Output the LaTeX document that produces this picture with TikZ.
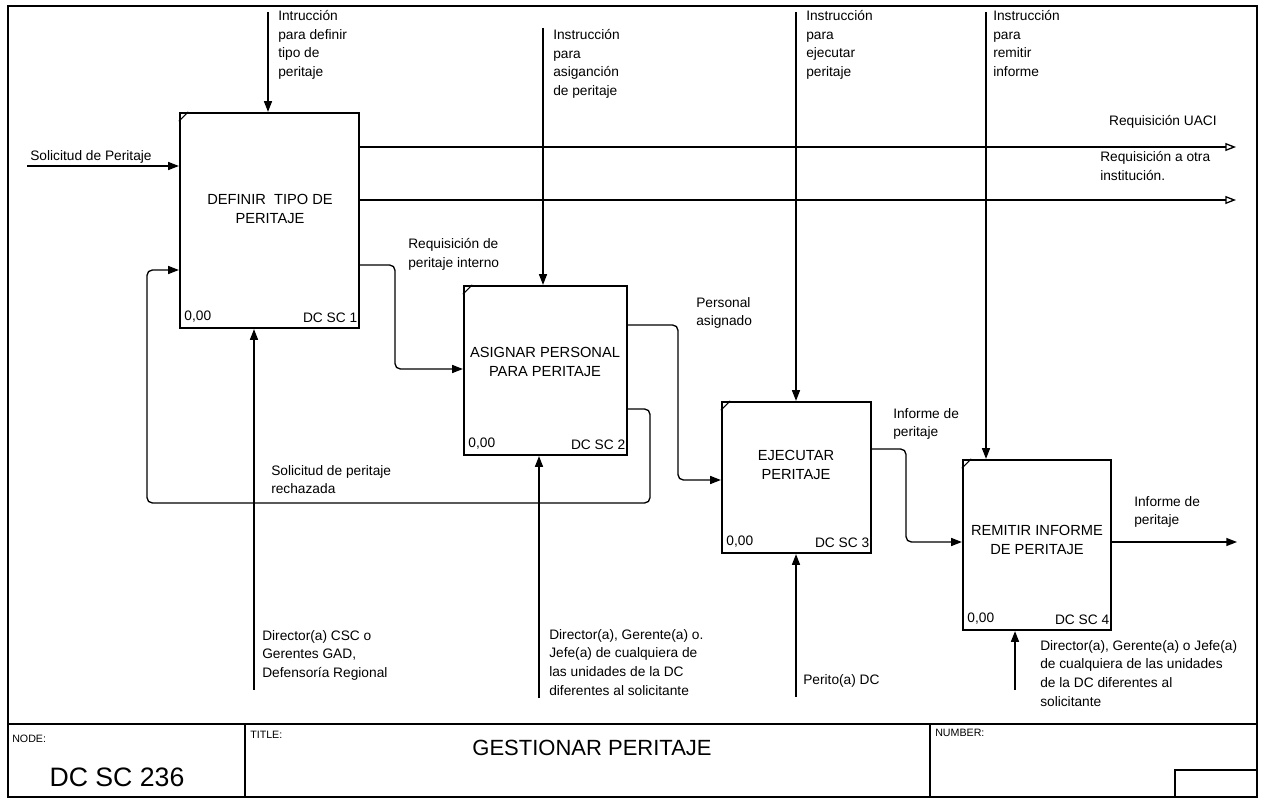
\documentclass[tikz,border=0pt]{standalone}
\usepackage{fontspec}
\setmainfont{Liberation Sans}
\usetikzlibrary{arrows.meta}
\begin{document}
\begin{tikzpicture}[x=0.75pt,y=-0.75pt,
  box/.style={draw, line width=1.7pt, inner sep=0pt},
  boxtext/.style={align=center, font=\fontsize{11}{14.5}\selectfont, inner sep=0pt},
  lbl/.style={align=left, anchor=north west, font=\fontsize{10.3}{14}\selectfont, inner sep=0pt},
  corner/.style={font=\fontsize{10.3}{12}\selectfont, inner sep=0pt},
  flow/.style={line width=1pt, -{Triangle[length=8pt,width=6pt]}, rounded corners=4pt},
  oflow/.style={line width=1pt, -{Triangle[open,length=8pt,width=6pt]}},
  frameline/.style={line width=1.1pt},
  small/.style={font=\fontsize{8}{10}\selectfont, anchor=north west, inner sep=0pt},
  tick/.style={line width=0.8pt}
]
\useasboundingbox (0,0) rectangle (1261,799);

% frame and title block
\draw[frameline] (8,6) rectangle (1257,797);
\draw[frameline] (8,724) -- (1257,724);
\draw[frameline] (245,724) -- (245,797);
\draw[frameline] (930,724) -- (930,797);
\draw[frameline] (1175,770) rectangle (1257,797);
\node[small] (nodelbl) at (12,735) {NODE:};
\node[font=\fontsize{20}{24}\selectfont, inner sep=0pt] (nodeid) at (117,777) {DC SC 236};
\node[small] (titlelbl) at (250,731) {TITLE:};
\node[font=\fontsize{16.5}{20}\selectfont, inner sep=0pt] (title) at (592,748) {GESTIONAR PERITAJE};
\node[small] (numlbl) at (935,729) {NUMBER:};

% boxes
\node[box, minimum width={179*0.75pt}, minimum height={215*0.75pt}] (b1) at (269.5,220.5) {};
\node[box, minimum width={163*0.75pt}, minimum height={169*0.75pt}] (b2) at (545.5,370.5) {};
\node[box, minimum width={149*0.75pt}, minimum height={151*0.75pt}] (b3) at (796.5,477.5) {};
\node[box, minimum width={148*0.75pt}, minimum height={170*0.75pt}] (b4) at (1037,545) {};

\node[boxtext] (t1) at (270,209) {DEFINIR\ \ TIPO DE\\PERITAJE};
\node[boxtext] (t2) at (545,362) {ASIGNAR PERSONAL\\PARA PERITAJE};
\node[boxtext] (t3) at (796,465) {EJECUTAR\\PERITAJE};
\node[boxtext] (t4) at (1037,540) {REMITIR INFORME\\DE PERITAJE};

\foreach \b/\n in {b1/1,b2/2,b3/3,b4/4}{
  \node[corner, anchor=south west] (\b z) at ([xshift=4pt,yshift=5pt]\b.south west) {0,00};
  \node[corner, anchor=south east] (\b id) at ([xshift=-2pt,yshift=5pt]\b.south east) {DC SC \n};
  \draw[tick] ([yshift=-7pt]\b.north west) -- ([xshift=7pt]\b.north west);
}

% free ends
\coordinate (in1) at (27,166);
\coordinate (c1) at (268,12);
\coordinate (c2) at (543,28);
\coordinate (c3) at (796,12);
\coordinate (c4) at (986,12);
\coordinate (o1) at (1236,147);
\coordinate (o2) at (1236,200);
\coordinate (o4) at (1237,542);
\coordinate (m1) at (254,690);
\coordinate (m2) at (539,698);
\coordinate (m3) at (796,697);
\coordinate (m4) at (1015,690);

% inputs / controls / mechanisms
\draw[flow] (in1) -- (b1.west |- in1);
\draw[flow] (c1) -- (b1.north -| c1);
\draw[flow] (c2) -- (b2.north -| c2);
\draw[flow] (c3) -- (b3.north -| c3);
\draw[flow] (c4) -- (b4.north -| c4);
\draw[flow] (m1) -- (b1.south -| m1);
\draw[flow] (m2) -- (b2.south -| m2);
\draw[flow] (m3) -- (b3.south -| m3);
\draw[flow] (m4) -- (b4.south -| m4);

% outputs
\draw[oflow] (b1.east |- o1) -- (o1);
\draw[oflow] (b1.east |- o2) -- (o2);
\draw[flow] (b1.east |- 0,265) -- (395,265) -- (395,369) -- (b2.west |- 0,369);
\draw[flow] (b2.east |- 0,409) -- (650,409) -- (650,503) -- (147,503) -- (147,270) -- (b1.west |- 0,270);
\draw[flow] (b2.east |- 0,325) -- (678,325) -- (678,480) -- (b3.west |- 0,480);
\draw[flow] (b3.east |- 0,449) -- (906,449) -- (906,542) -- (b4.west |- 0,542);
\draw[flow] (b4.east |- o4) -- (o4);

% labels
\node[lbl, anchor=base west] (lin1) at (30,161) {Solicitud de Peritaje};
\node[lbl] (lc1) at (278,10) {Intrucción\\para definir\\tipo de\\peritaje};
\node[lbl] (lc2) at (553,29) {Instrucción\\para\\asiganción\\de peritaje};
\node[lbl] (lc3) at (806,10) {Instrucción\\para\\ejecutar\\peritaje};
\node[lbl] (lc4) at (993,10) {Instrucción\\para\\remitir\\informe};
\node[lbl, anchor=east] (lo1) at (1217,122) {Requisición UACI};
\node[lbl] (lo2) at (1100,151) {Requisición a otra\\institución.};
\node[lbl] (lo3) at (408,238) {Requisición de\\peritaje interno};
\node[lbl] (lfb) at (271,465) {Solicitud de peritaje\\rechazada};
\node[lbl] (lpa) at (696,297) {Personal\\asignado};
\node[lbl] (li3) at (893,408) {Informe de\\peritaje};
\node[lbl] (li4) at (1134,496) {Informe de\\peritaje};
\node[lbl] (lm1) at (262,630) {Director(a) CSC o\\Gerentes GAD,\\Defensoría Regional};
\node[lbl] (lm2) at (549,629) {Director(a), Gerente(a) o.\\Jefe(a) de cualquiera de\\las unidades de la DC\\diferentes al solicitante};
\node[lbl] (lm3) at (803,674) {Perito(a) DC};
\node[lbl] (lm4) at (1040,640) {Director(a), Gerente(a) o Jefe(a)\\de cualquiera de las unidades\\de la DC diferentes al\\solicitante};
\end{tikzpicture}
\end{document}
